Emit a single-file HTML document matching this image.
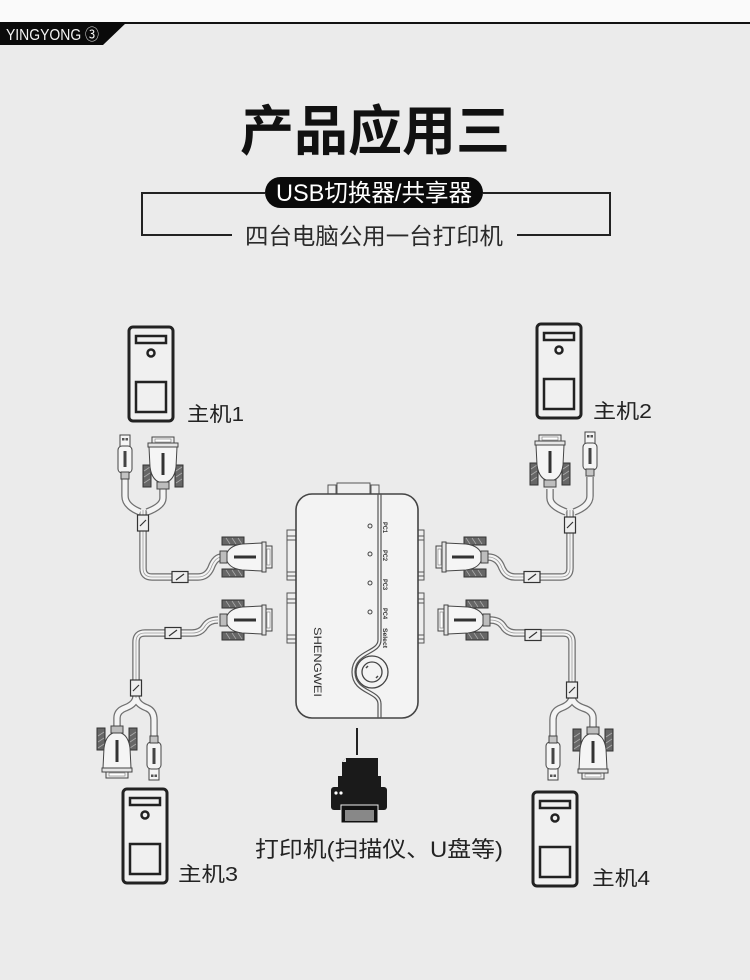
<!DOCTYPE html>
<html><head><meta charset="utf-8"><style>
html,body{margin:0;padding:0;background:#ebebeb;}
svg{display:block;}
text{font-family:"Liberation Sans","Noto Sans CJK SC",sans-serif;}
</style></head><body>
<svg width="750" height="980" viewBox="0 0 750 980" xmlns="http://www.w3.org/2000/svg">
<defs>
 <g id="db9">
  <rect x="0" y="28" width="8" height="22" fill="#666" stroke="#333" stroke-width="1"/>
  <rect x="32" y="28" width="8" height="22" fill="#666" stroke="#333" stroke-width="1"/>
  <path d="M1,34 L7,30 M1,40 L7,36 M1,46 L7,42 M33,34 L39,30 M33,40 L39,36 M33,46 L39,42" stroke="#aaa" stroke-width=".8"/>
  <rect x="9" y="0" width="22" height="7" fill="#f0f0f0" stroke="#444" stroke-width="1"/>
  <rect x="12" y="2" width="16" height="3" fill="#fff" stroke="#777" stroke-width=".6"/>
  <rect x="5" y="6" width="30" height="4" fill="#e6e6e6" stroke="#444" stroke-width="1"/>
  <path d="M6,10 H34 L33,30 Q31,45 20,46 Q9,45 7,30 Z" fill="#f5f5f5" stroke="#444" stroke-width="1"/>
  <rect x="18.5" y="16" width="3" height="22" fill="#333"/>
  <rect x="14" y="45" width="12" height="7" fill="#bdbdbd" stroke="#444" stroke-width="1"/>
 </g>
 <g id="usb">
  <rect x="3" y="0" width="10" height="12" fill="#f5f5f5" stroke="#444" stroke-width="1"/>
  <rect x="5" y="3" width="2.5" height="2.5" fill="#555"/>
  <rect x="8.5" y="3" width="2.5" height="2.5" fill="#555"/>
  <rect x="1" y="11" width="14" height="27" rx="4" fill="#f5f5f5" stroke="#444" stroke-width="1"/>
  <rect x="6.5" y="16" width="3" height="16" fill="#444"/>
  <rect x="4" y="37" width="8" height="7" fill="#c4c4c4" stroke="#444" stroke-width="1"/>
 </g>
 <path id="c1a" d="M125,478 V496 Q125,506 140,512"/>
 <path id="c1b" d="M163,489 V498 Q163,506 147,512"/>
 <path id="c1" d="M143,510 V568 Q143,577 152,577 H198 Q207,577 211,568 Q215,557 222,557"/>
 <path id="c3" d="M218,620 Q209,620 205,626 Q201,633 192,633 H145 Q136,633 136,642 V698"/>
 <path id="c3a" d="M136,696 Q136,704 125,708 Q117,711 117,718 V727"/>
 <path id="c3b" d="M136,696 Q136,704 147,708 Q154,711 154,720 V737"/>
 <path id="c2a" d="M550,489 V498 Q550,506 566,512"/>
 <path id="c2b" d="M590,477 V496 Q590,506 574,512"/>
 <path id="c2" d="M570,510 V568 Q570,577 561,577 H515 Q506,577 502,568 Q498,557 488,557"/>
 <path id="c4" d="M490,620 Q499,620 503,626 Q507,633 516,633 H563 Q572,633 572,642 V698"/>
 <path id="c4a" d="M572,696 Q572,704 561,708 Q553,711 553,720 V737"/>
 <path id="c4b" d="M572,696 Q572,704 583,708 Q593,711 593,718 V728"/>
 <g id="host">
  <rect x="0" y="0" width="44" height="94" rx="4" fill="#f0f0f0" stroke="#222" stroke-width="3"/>
  <rect x="7" y="9" width="30" height="7" fill="none" stroke="#222" stroke-width="2.5"/>
  <circle cx="22" cy="26" r="3.5" fill="none" stroke="#222" stroke-width="2.5"/>
  <rect x="7" y="55" width="30" height="30" fill="none" stroke="#222" stroke-width="2.5"/>
 </g>
</defs>

<!-- header -->
<rect x="0" y="0" width="750" height="22" fill="#fafafa"/>
<rect x="0" y="22" width="750" height="2" fill="#111"/>
<polygon points="0,22 127,22 103,45 0,45" fill="#0a0a0a"/>
<text x="6" y="40" font-size="16" fill="#f2f2f2" textLength="93" lengthAdjust="spacingAndGlyphs">YINGYONG ③</text>

<!-- title -->
<text x="375" y="150" text-anchor="middle" font-size="54" font-weight="bold" fill="#111" textLength="270" lengthAdjust="spacingAndGlyphs">产品应用三</text>

<!-- bracket -->
<path d="M265,193 H142 V235 H232 M483,193 H610 V235 H517" fill="none" stroke="#222" stroke-width="2"/>
<rect x="265" y="177" width="218" height="31" rx="15.5" fill="#0a0a0a"/>
<text x="374" y="201" text-anchor="middle" font-size="24" fill="#fff" textLength="196" lengthAdjust="spacingAndGlyphs">USB切换器/共享器</text>
<text x="374" y="244" text-anchor="middle" font-size="23" fill="#2a2a2a" textLength="258" lengthAdjust="spacingAndGlyphs">四台电脑公用一台打印机</text>

<!-- hosts -->
<use href="#host" x="129" y="327"/>
<use href="#host" x="537" y="324"/>
<use href="#host" x="123" y="789"/>
<use href="#host" x="533" y="792"/>
<text x="187" y="421" font-size="20" fill="#222" textLength="57" lengthAdjust="spacingAndGlyphs">主机1</text>
<text x="593" y="418" font-size="20" fill="#222" textLength="59" lengthAdjust="spacingAndGlyphs">主机2</text>
<text x="178" y="881" font-size="20" fill="#222" textLength="60" lengthAdjust="spacingAndGlyphs">主机3</text>
<text x="592" y="885" font-size="20" fill="#222" textLength="58" lengthAdjust="spacingAndGlyphs">主机4</text>

<!-- cables -->
<g fill="none" stroke="#707070" stroke-width="7.5" stroke-linejoin="round">
 <use href="#c1a"/><use href="#c1b"/><use href="#c1"/>
 <use href="#c3"/><use href="#c3a"/><use href="#c3b"/>
 <use href="#c2a"/><use href="#c2b"/><use href="#c2"/>
 <use href="#c4"/><use href="#c4a"/><use href="#c4b"/>
</g>
<g fill="none" stroke="#f4f4f4" stroke-width="5" stroke-linejoin="round">
 <use href="#c1a"/><use href="#c1b"/><use href="#c1"/>
 <use href="#c3"/><use href="#c3a"/><use href="#c3b"/>
 <use href="#c2a"/><use href="#c2b"/><use href="#c2"/>
 <use href="#c4"/><use href="#c4a"/><use href="#c4b"/>
</g>
<g fill="none" stroke="#9a9a9a" stroke-width="0.8">
 <use href="#c1"/><use href="#c3"/><use href="#c2"/><use href="#c4"/>
</g>

<!-- ferrites -->
<g fill="#eee" stroke="#333" stroke-width="1.2">
 <rect x="137.5" y="515" width="11" height="16"/>
 <rect x="172" y="571.5" width="16" height="11"/>
 <rect x="130.5" y="680" width="11" height="16"/>
 <rect x="165" y="627.5" width="16" height="11"/>
 <rect x="564.5" y="517" width="11" height="16"/>
 <rect x="524" y="571.5" width="16" height="11"/>
 <rect x="566.5" y="682" width="11" height="16"/>
 <rect x="525" y="629.5" width="16" height="11"/>
</g>
<g stroke="#333" stroke-width="1.2">
 <path d="M140,526 L146,520 M176,580 L184,574 M133,691 L139,685 M169,636 L177,630 M567,528 L573,522 M528,580 L536,574 M569,693 L575,687 M529,638 L537,632"/>
</g>

<!-- connectors -->
<use href="#usb" transform="translate(117,435)"/>
<use href="#db9" transform="translate(143,437)"/>
<use href="#db9" transform="translate(530,435)"/>
<use href="#usb" transform="translate(582,432)"/>
<use href="#db9" transform="translate(137,778) rotate(180)"/>
<use href="#usb" transform="translate(162,780) rotate(180)"/>
<use href="#usb" transform="translate(561,780) rotate(180)"/>
<use href="#db9" transform="translate(613,779) rotate(180)"/>
<use href="#db9" transform="translate(272,537) rotate(90)"/>
<use href="#db9" transform="translate(272,600) rotate(90)"/>
<use href="#db9" transform="translate(436,577) rotate(-90)"/>
<use href="#db9" transform="translate(438,640) rotate(-90)"/>

<!-- switch -->
<g stroke="#555" stroke-width="1" fill="#eee">
 <rect x="287" y="530" width="10" height="50"/>
 <rect x="287" y="593" width="10" height="50"/>
 <rect x="417" y="530" width="7" height="50"/>
 <rect x="417" y="593" width="7" height="50"/>
 <path d="M287,536 H297 M287,540 H297 M287,572 H297 M287,576 H297 M287,599 H297 M287,603 H297 M287,635 H297 M287,639 H297" fill="none"/>
 <path d="M417,536 H424 M417,540 H424 M417,572 H424 M417,576 H424 M417,599 H424 M417,603 H424 M417,635 H424 M417,639 H424" fill="none"/>
 <rect x="328" y="485" width="8" height="10"/>
 <rect x="337" y="483" width="33" height="12"/>
 <rect x="371" y="485" width="8" height="10"/>
</g>
<rect x="296" y="494" width="122" height="224" rx="16" fill="#f3f3f3" stroke="#444" stroke-width="1.6"/>
<path d="M378,494 V640 C378,652 352,650 352,672 C352,694 378,692 378,704 V718" fill="none" stroke="#555" stroke-width="1.2"/>
<path d="M381,494 V640 C381,655 355,652 355,672 C355,692 381,689 381,704 V718" fill="none" stroke="#555" stroke-width="1.2"/>
<circle cx="372" cy="672" r="16" fill="#f3f3f3" stroke="#444" stroke-width="1.3"/>
<circle cx="372" cy="672" r="10" fill="none" stroke="#444" stroke-width="1.3"/>
<path d="M366,668 L368,666 M378,676 L376,678" stroke="#444" stroke-width="1.5"/>
<g fill="none" stroke="#444" stroke-width="1">
 <circle cx="370" cy="526" r="2"/>
 <circle cx="370" cy="554" r="2"/>
 <circle cx="370" cy="583" r="2"/>
 <circle cx="370" cy="612" r="2"/>
</g>
<g font-size="6" font-weight="bold" fill="#333">
 <text transform="translate(383,522) rotate(90)" textLength="11" lengthAdjust="spacingAndGlyphs">PC1</text>
 <text transform="translate(383,550) rotate(90)" textLength="11" lengthAdjust="spacingAndGlyphs">PC2</text>
 <text transform="translate(383,579) rotate(90)" textLength="11" lengthAdjust="spacingAndGlyphs">PC3</text>
 <text transform="translate(383,608) rotate(90)" textLength="11" lengthAdjust="spacingAndGlyphs">PC4</text>
 <text transform="translate(383,628) rotate(90)" textLength="20" lengthAdjust="spacingAndGlyphs">Select</text>
</g>
<text transform="translate(314,627) rotate(90)" font-size="11" fill="#333" textLength="70" lengthAdjust="spacingAndGlyphs">SHENGWEI</text>

<!-- printer -->
<line x1="357" y1="728" x2="357" y2="755" stroke="#222" stroke-width="2"/>
<rect x="338" y="776" width="4" height="12" fill="#1a1a1a"/>
<rect x="377" y="776" width="4" height="12" fill="#1a1a1a"/>
<path d="M346,758 H378 V788 H342 V762 Z" fill="#1a1a1a"/>
<path d="M342,762 L346,758 L346,762 Z" fill="#ebebeb"/>
<rect x="331" y="787" width="56" height="23" rx="3" fill="#1a1a1a"/>
<circle cx="336" cy="793" r="1.6" fill="#fff"/>
<circle cx="341" cy="793" r="1.6" fill="#fff"/>
<rect x="341" y="805" width="37" height="18" fill="#111" stroke="#eee" stroke-width="1"/>
<rect x="345" y="810" width="29" height="11" fill="#888"/>
<text x="255" y="857" font-size="22" fill="#222" textLength="248" lengthAdjust="spacingAndGlyphs">打印机(扫描仪、U盘等)</text>
</svg>
</body></html>
